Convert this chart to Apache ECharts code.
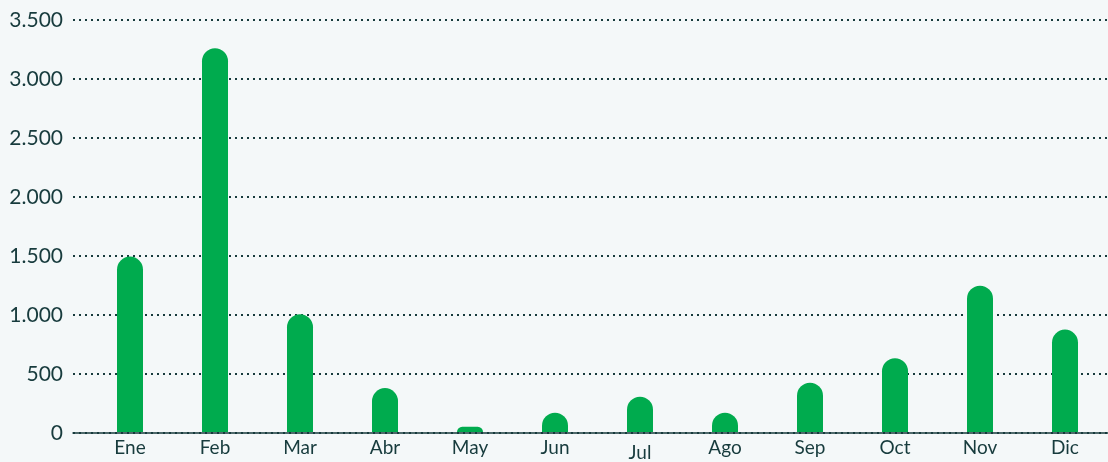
<!DOCTYPE html>
<html>
<head>
<meta charset="utf-8">
<style>
  html, body { margin: 0; padding: 0; background: #f4f8f9; }
  #chart { width: 1108px; height: 462px; }
</style>
<script src="https://cdn.jsdelivr.net/npm/echarts@6/dist/echarts.min.js"></script>
</head>
<body>
<div id="chart"></div>
<script>
// Monthly totals
const months = ['Ene', 'Feb', 'Mar', 'Abr', 'May', 'Jun', 'Jul', 'Ago', 'Sep', 'Oct', 'Nov', 'Dic'];
const totals = [1490, 3260, 1000, 373, 45, 164, 299, 164, 418, 627, 1242, 870];
const yTicks = [0, 500, 1000, 1500, 2000, 2500, 3000, 3500];

const ink = '#173b3d';
const green = '#00ab4e';
const yMin = yTicks[0];
const yMax = yTicks[yTicks.length - 1];
const yStep = yTicks[1] - yTicks[0];

const fmt = v => String(v).replace(/\B(?=(\d{3})+(?!\d))/g, '.');

const chart = echarts.init(document.getElementById('chart'), null, { renderer: 'canvas' });

chart.setOption({
  backgroundColor: '#f4f8f9',
  animation: false,
  grid: [
    // frame: gridlines, value labels and baseline
    { left: 73, right: 0, top: 20, bottom: 29 },
    // bars and month labels
    { left: 87.5, right: 0.5, top: 20, bottom: 29 }
  ],
  xAxis: [
    {
      gridIndex: 0, type: 'category', data: months,
      axisLine: { show: true, lineStyle: { color: ink, width: 1.5 } },
      axisTick: { show: false }, axisLabel: { show: false }, splitLine: { show: false }
    },
    {
      gridIndex: 1, type: 'category',
      data: months.map(m => m === 'Jul'
        ? { value: m, textStyle: { padding: [5, 0, 0, 0] } }
        : m),
      axisLine: { show: false }, axisTick: { show: false },
      axisLabel: {
        margin: 6, color: ink, fontSize: 19,
        fontFamily: 'Lato, "Noto Sans", sans-serif'
      }
    }
  ],
  yAxis: [
    {
      gridIndex: 0, type: 'value', min: yMin, max: yMax, interval: yStep,
      axisLine: { show: false }, axisTick: { show: false },
      axisLabel: {
        margin: 10, color: ink, fontSize: 21, fontFamily: 'Lato, "Noto Sans", sans-serif',
        formatter: fmt
      },
      splitLine: { show: true, lineStyle: { color: ink, width: 2, type: [2, 4] } }
    },
    {
      gridIndex: 1, type: 'value', min: yMin, max: yMax, interval: yStep,
      axisLine: { show: false }, axisTick: { show: false },
      axisLabel: { show: false }, splitLine: { show: false }
    }
  ],
  series: [{
    type: 'bar',
    xAxisIndex: 1, yAxisIndex: 1,
    data: totals,
    barWidth: 26,
    itemStyle: { color: green, borderRadius: [13, 13, 0, 0] },
    z: 3
  }]
});
</script>
</body>
</html>
